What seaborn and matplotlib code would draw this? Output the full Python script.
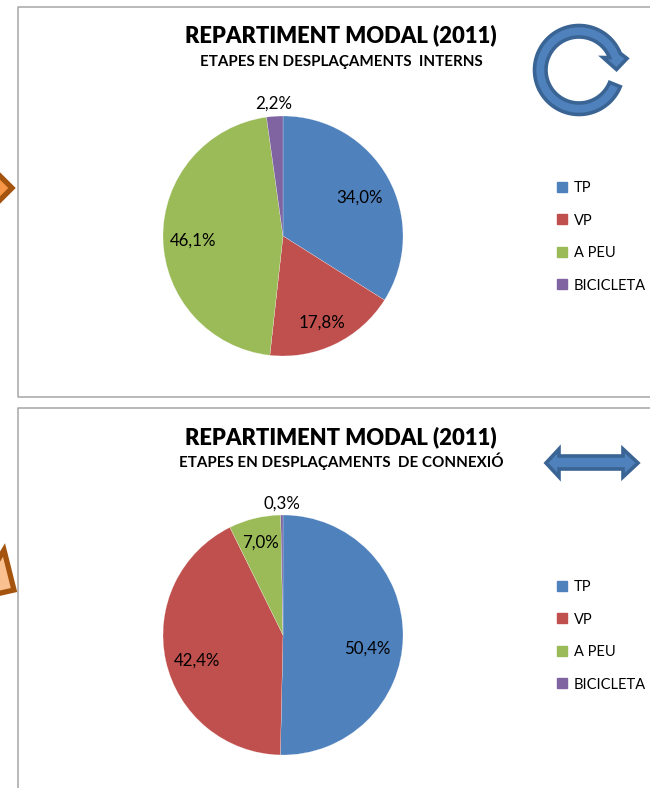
import numpy as np
import matplotlib
matplotlib.use("Agg")
import matplotlib.pyplot as plt
from matplotlib.patches import Polygon
from matplotlib.lines import Line2D
import seaborn as sns

categories = ["TP", "VP", "A PEU", "BICICLETA"]
internal_values = [34.0, 17.8, 46.1, 2.2]
connection_values = [50.4, 42.4, 7.0, 0.3]
title_text = "REPARTIMENT MODAL (2011)"
internal_subtitle = "ETAPES EN DESPLAÇAMENTS  INTERNS"
connection_subtitle = "ETAPES EN DESPLAÇAMENTS  DE CONNEXIÓ"
palette = ["#4F81BD", "#C0504D", "#9BBB59", "#8064A2"]

sns.set_theme(style="white")
plt.rcParams["font.family"] = ["Lato", "DejaVu Sans"]

W, H = 650, 788
fig = plt.figure(figsize=(W / 100, H / 100), dpi=100, facecolor="white")
bg = fig.add_axes([0, 0, 1, 1])
bg.set_xlim(0, W)
bg.set_ylim(H, 0)
bg.axis("off")

# panel frames
frame = "#A6A6A6"
bg.add_line(Line2D([660, 17.5, 17.5, 660], [6.5, 6.5, 396.5, 396.5], color=frame, lw=1.1))
bg.add_line(Line2D([660, 17.5, 17.5], [407.5, 407.5, 800], color=frame, lw=1.1))


def poly(points, face, edge, lw):
    bg.add_patch(Polygon(points, closed=True, facecolor=face, edgecolor=edge, lw=lw,
                         joinstyle="miter", clip_on=True))


# side connectors
poly([(12, 188), (-10, 166), (-10, 210)], "#F79646", "#A5540F", 3.8)
poly([(4, 550), (14, 590), (-8, 595), (-8, 570)], "#FBC08F", "#A5540F", 3.8)

# circular arrow
cx, cy, ro, ri = 579, 70, 44.5, 33
a = np.radians(np.linspace(22, 338, 90))
outer = np.c_[cx + ro * np.cos(a), cy + ro * np.sin(a)]
inner = np.c_[cx + ri * np.cos(a[::-1]), cy + ri * np.sin(a[::-1])]
head = np.array([[627, 58.5], [616.5, 69.5], [603, 57.5]])
poly(np.vstack([outer, head, inner]), "#4F81BD", "#3A6494", 2.6)

# double arrow
poly([(546, 463), (559, 449), (559, 456), (623, 456), (623, 449), (638, 463),
      (623, 477), (623, 469), (559, 469), (559, 477)], "#4F81BD", "#3A6494", 2.6)


def draw_panel(values, cy_px, subtitle, title_y, sub_y, radial, drop, legend_top):
    r = 120
    ax = fig.add_axes([(283 - r) / W, 1 - (cy_px + r) / H, 2 * r / W, 2 * r / H])
    ax.pie(values, colors=palette, startangle=90, counterclock=False, radius=1,
           wedgeprops=dict(edgecolor="white", linewidth=0.15))
    ax.set_xlim(-1, 1)
    ax.set_ylim(-1, 1)
    fracs = np.array(values) / np.sum(values)
    mids = np.pi / 2 - 2 * np.pi * (np.cumsum(fracs) - fracs / 2)
    for v, m, d, dy in zip(values, mids, radial, drop):
        ax.annotate(f"{v:.1f}%".replace(".", ","), (d * np.cos(m), d * np.sin(m)),
                    xytext=(0, -dy * 0.72), textcoords="offset points",
                    ha="center", va="center", fontsize=12.2, color="black",
                    annotation_clip=False)
    bg.text(341, title_y, title_text, ha="center", va="center", fontsize=15.8,
            fontweight="heavy", color="black")
    bg.text(341, sub_y, subtitle, ha="center", va="center", fontsize=10.9,
            fontweight="bold", color="black")
    handles = [Line2D([], [], ls="", marker="s", ms=7, color=c) for c in palette]
    fig.legend(handles, categories, loc="upper left",
               bbox_to_anchor=(551 / W, 1 - legend_top / H), frameon=False,
               fontsize=10.5, labelspacing=1.27, handletextpad=0.05,
               handlelength=1.5, borderpad=0, borderaxespad=0, labelcolor="black")


draw_panel(internal_values, 236, internal_subtitle, 35, 61.5,
           [0.73, 0.75, 0.75, 1.11], [4, 6, 3.5, 1], 181)
draw_panel(connection_values, 635, connection_subtitle, 437, 461.5,
           [0.705, 0.73, 0.78, 1.11], [13, 7, -1, 2], 580)

fig.savefig("out.png", dpi=100, facecolor="white")
